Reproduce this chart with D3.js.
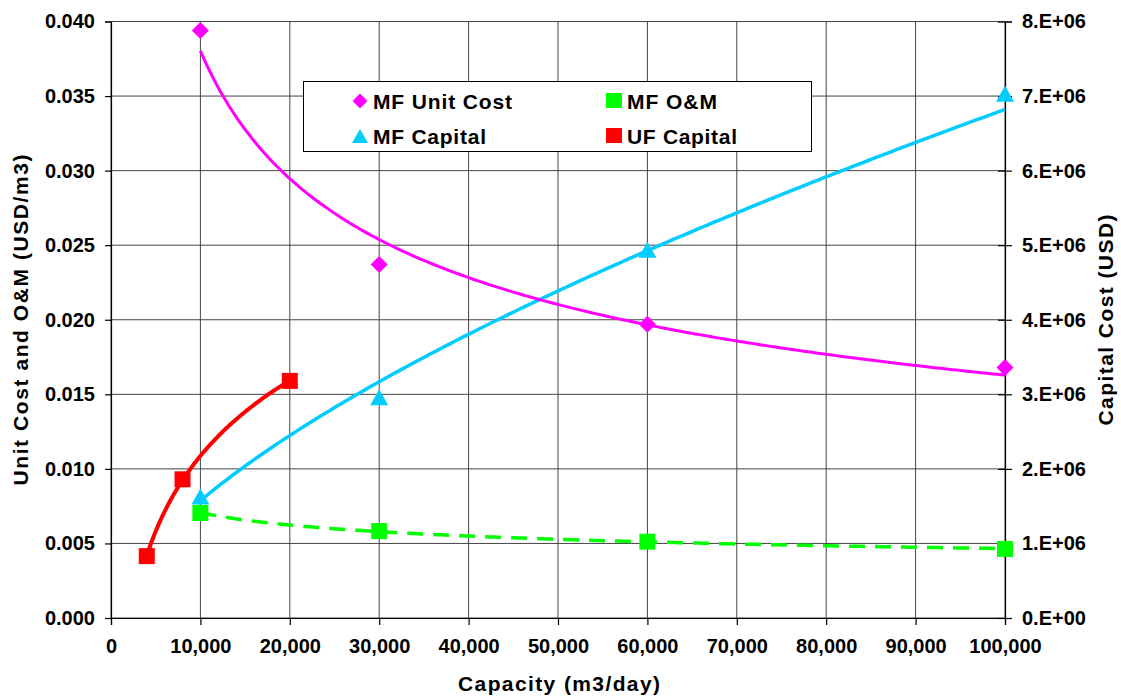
<!DOCTYPE html>
<html><head><meta charset="utf-8">
<script src="https://cdn.jsdelivr.net/npm/d3@7/dist/d3.min.js"></script>
<style>body{margin:0;background:#fff;} svg{display:block;font-family:"Liberation Sans",Arial,sans-serif;font-weight:bold;}</style>
</head><body><svg id="c" width="1121" height="696"></svg>
<script>
// ---- data ----
const xTicks = [0,10000,20000,30000,40000,50000,60000,70000,80000,90000,100000];
const leftTicks = [0,0.005,0.010,0.015,0.020,0.025,0.030,0.035,0.040];
const rightTicks = [0,1e6,2e6,3e6,4e6,5e6,6e6,7e6,8e6];

const mfCapacity = [10000,30000,60000,100000];
const mfUnitCost = [0.0394,0.0237,0.0197,0.0168];     // left axis
const mfOM       = [0.00704,0.00583,0.00512,0.00463]; // left axis
const mfCapital  = [1.63e6,2.96e6,4.94e6,7.03e6];     // right axis

const ufCapacity = [4000,8000,20000];
const ufCapital  = [0.83e6,1.86e6,3.18e6];            // right axis

// ---- layout ----
const svg = d3.select("#c");
const L=111, R=1005, T=21.5, B=618;
const x = d3.scaleLinear([0,100000],[L,R]);
const yL = d3.scaleLinear([0,0.04],[B,T]);
const yR = d3.scaleLinear([0,8e6],[B,T]);

// gridlines
const g = svg.append("g");
g.selectAll("line.h").data(leftTicks).join("line")
  .attr("x1",L).attr("x2",R).attr("y1",d=>yL(d)).attr("y2",d=>yL(d))
  .attr("stroke","#444").attr("stroke-width",1);
g.selectAll("line.v").data(xTicks).join("line")
  .attr("y1",T).attr("y2",B).attr("x1",d=>x(d)).attr("x2",d=>x(d))
  .attr("stroke","#444").attr("stroke-width",1);

// axes
const fs = 20;
const ax = svg.append("g").attr("transform",`translate(0,${B})`)
  .call(d3.axisBottom(x).tickValues(xTicks).tickFormat(d3.format(",")).tickSize(7).tickPadding(14));
const ay = svg.append("g").attr("transform",`translate(${L},0)`)
  .call(d3.axisLeft(yL).tickValues(leftTicks).tickFormat(d3.format(".3f")).tickSize(6).tickPadding(10));
const fmtE = v => v===0 ? "0.E+00" : (v/1e6)+".E+06";
const ar = svg.append("g").attr("transform",`translate(${R},0)`)
  .call(d3.axisRight(yR).tickValues(rightTicks).tickFormat(fmtE).tickSize(7).tickPadding(10));
ar.selectAll(".tick line").attr("x1",-7);
[ax,ay,ar].forEach(a=>{
  a.selectAll("text").attr("font-size",fs).attr("font-weight","bold").attr("fill","#000")
   .attr("font-family",'"Liberation Sans",Arial,sans-serif');
  a.selectAll("line,path").attr("stroke","#000").attr("stroke-width",1.2);
});

// trendline fits (computed from data points)
function powerFit(xs,ys){
  const lx=xs.map(Math.log), ly=ys.map(Math.log);
  const mx=d3.mean(lx), my=d3.mean(ly);
  const b=d3.sum(lx,(v,i)=>(v-mx)*(ly[i]-my))/d3.sum(lx,v=>(v-mx)**2);
  const a=Math.exp(my-b*mx);
  return t=>a*Math.pow(t,b);
}
function logFit(xs,ys){
  const lx=xs.map(Math.log);
  const mx=d3.mean(lx), my=d3.mean(ys);
  const b=d3.sum(lx,(v,i)=>(v-mx)*(ys[i]-my))/d3.sum(lx,v=>(v-mx)**2);
  const a=my-b*mx;
  return t=>a+b*Math.log(t);
}
function samples(lo,hi,n){ return d3.range(n+1).map(i=>lo+(hi-lo)*i/n); }

const lineGen = (f,ys)=>d3.line().x(d=>x(d)).y(d=>ys(f(d)));

const fUnit = powerFit(mfCapacity,mfUnitCost);
const fOM = powerFit(mfCapacity,mfOM);
const fCap = powerFit(mfCapacity,mfCapital);
const fUF = logFit(ufCapacity,ufCapital);

const xsMF = samples(10000,100000,200);
const xsUF = samples(4000,20000,100);

svg.append("path").attr("d",lineGen(fOM,yL)(xsMF)).attr("fill","none")
  .attr("stroke","#00FF00").attr("stroke-width",3.5).attr("stroke-dasharray","16,10");
svg.append("path").attr("d",lineGen(fCap,yR)(xsMF)).attr("fill","none")
  .attr("stroke","#00CCFF").attr("stroke-width",3.5);
svg.append("path").attr("d",lineGen(fUnit,yL)(xsMF)).attr("fill","none")
  .attr("stroke","#FF00FF").attr("stroke-width",3);
svg.append("path").attr("d",lineGen(fUF,yR)(xsUF)).attr("fill","none")
  .attr("stroke","#FF0000").attr("stroke-width",4);

// markers
const diamond = s=>`M0,${-s}L${s},0L0,${s}L${-s},0Z`;
const tri = (w,h)=>`M0,${-h/2}L${w/2},${h/2}L${-w/2},${h/2}Z`;
svg.selectAll("path.d").data(mfCapacity).join("path")
  .attr("d",diamond(8.5)).attr("transform",(d,i)=>`translate(${x(d)},${yL(mfUnitCost[i])})`).attr("fill","#FF00FF");
svg.selectAll("rect.om").data(mfCapacity).join("rect")
  .attr("x",d=>x(d)-8).attr("y",(d,i)=>yL(mfOM[i])-8).attr("width",16).attr("height",16).attr("fill","#00FF00");
svg.selectAll("path.t").data(mfCapacity).join("path")
  .attr("d",tri(18,16)).attr("transform",(d,i)=>`translate(${x(d)},${yR(mfCapital[i])})`).attr("fill","#00CCFF");
svg.selectAll("rect.uf").data(ufCapacity).join("rect")
  .attr("x",d=>x(d)-8).attr("y",(d,i)=>yR(ufCapital[i])-8).attr("width",16).attr("height",16).attr("fill","#FF0000");

// legend
const lg = svg.append("g");
lg.append("rect").attr("x",303.5).attr("y",81.5).attr("width",508).attr("height",70)
  .attr("fill","#fff").attr("stroke","#000").attr("stroke-width",1);
const legendItems = [
  {name:"MF Unit Cost", color:"#FF00FF", shape:"diamond", lx:360, ly:101, w:139},
  {name:"MF O&M", color:"#00FF00", shape:"square", lx:614, ly:101, w:90},
  {name:"MF Capital", color:"#00CCFF", shape:"tri", lx:360, ly:136, w:113},
  {name:"UF Capital", color:"#FF0000", shape:"square", lx:614, ly:136, w:110}
];
legendItems.forEach(it=>{
  if(it.shape==="diamond") lg.append("path").attr("d",diamond(7.5)).attr("transform",`translate(${it.lx},${it.ly})`).attr("fill",it.color);
  else if(it.shape==="tri") lg.append("path").attr("d",tri(16,14)).attr("transform",`translate(${it.lx},${it.ly})`).attr("fill",it.color);
  else lg.append("rect").attr("x",it.lx-8).attr("y",it.ly-8).attr("width",16).attr("height",15).attr("fill",it.color);
  lg.append("text").attr("x",it.lx+13).attr("y",it.ly+7.5).attr("font-size",21)
    .attr("textLength",it.w).attr("lengthAdjust","spacing").text(it.name);
});

// axis titles
svg.append("text").attr("x",559).attr("y",691).attr("text-anchor","middle").attr("font-size",21)
  .attr("textLength",202).attr("lengthAdjust","spacing").text("Capacity (m3/day)");
svg.append("text").attr("transform","translate(28,320) rotate(-90)").attr("text-anchor","middle").attr("font-size",21)
  .attr("textLength",331).attr("lengthAdjust","spacing").text("Unit Cost and O&M (USD/m3)");
svg.append("text").attr("transform","translate(1113,320) rotate(-90)").attr("text-anchor","middle").attr("font-size",21)
  .attr("textLength",211).attr("lengthAdjust","spacing").text("Capital Cost (USD)");
</script></body></html>
